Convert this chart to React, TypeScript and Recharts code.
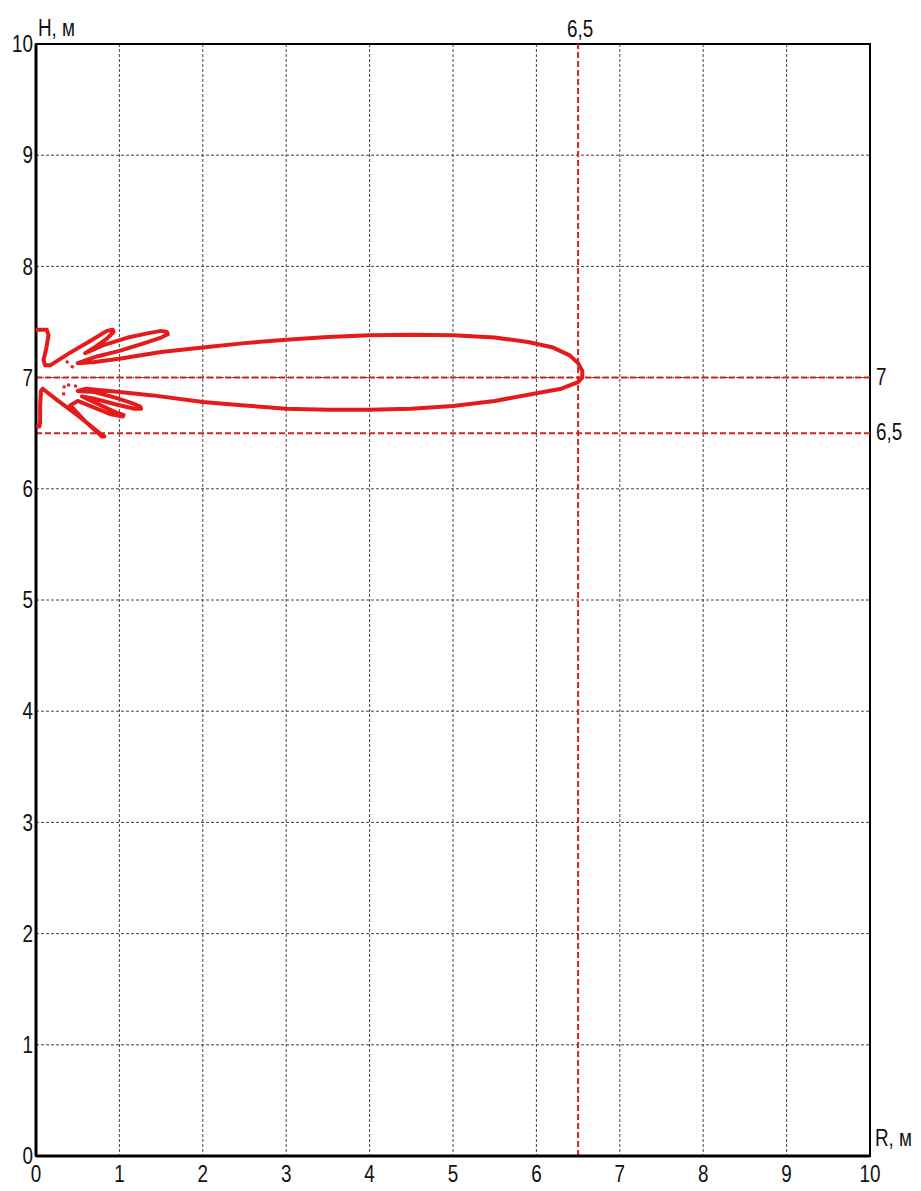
import React from 'react';
import {
  ScatterChart,
  Scatter,
  XAxis,
  YAxis,
  CartesianGrid,
  ReferenceLine,
  ReferenceArea,
} from 'recharts';

// Tick labels
const xTicks = [0, 1, 2, 3, 4, 5, 6, 7, 8, 9, 10];
const yTicks = [0, 1, 2, 3, 4, 5, 6, 7, 8, 9, 10];

// Pattern contour (R, м) — traced in drawing order
const patternR = [
  0.0, 0.13, 0.15, 0.12, 0.09, 0.11, 0.17,
  0.4, 0.65, 0.85, 0.92, 0.93, 0.85, 0.7, 0.59,
  0.8, 1.1, 1.35, 1.5, 1.57, 1.58, 1.5, 1.3, 1.0, 0.73, 0.5,
  0.7, 1.0, 1.5, 2.0, 2.5, 3.0, 3.5, 4.0, 4.5, 5.0, 5.5, 5.9, 6.2, 6.4, 6.5, 6.55, 6.55,
  6.5, 6.3, 6.0, 5.5, 5.0, 4.5, 4.0, 3.5, 3.0, 2.5, 2.0, 1.4, 1.0, 0.6, 0.5,
  0.7, 0.95, 1.15, 1.25, 1.26, 1.18, 0.95, 0.7, 0.55,
  0.75, 0.95, 1.05, 1.04, 0.9, 0.7, 0.5, 0.41,
  0.6, 0.79, 0.82, 0.78, 0.5, 0.25, 0.08,
  0.06, 0.05, 0.05, 0.04, 0.0,
];
// Pattern contour (H, м)
const patternH = [
  7.43, 7.43, 7.38, 7.25, 7.16, 7.11, 7.11,
  7.22, 7.33, 7.42, 7.43, 7.41, 7.35, 7.27, 7.22,
  7.29, 7.36, 7.40, 7.42, 7.41, 7.39, 7.36, 7.31, 7.24, 7.19, 7.13,
  7.14, 7.17, 7.23, 7.27, 7.31, 7.34, 7.365, 7.38, 7.385, 7.38, 7.36, 7.32, 7.27, 7.2, 7.13, 7.06, 7.0,
  6.96, 6.9, 6.86, 6.79, 6.745, 6.72, 6.71, 6.71, 6.72, 6.75, 6.78, 6.84, 6.87, 6.9, 6.88,
  6.87, 6.82, 6.77, 6.74, 6.72, 6.72, 6.76, 6.81, 6.83,
  6.76, 6.69, 6.665, 6.65, 6.67, 6.73, 6.79, 6.75,
  6.6, 6.47, 6.47, 6.49, 6.66, 6.8, 6.9,
  6.88, 6.75, 6.6, 6.56, 6.56,
];

// Small lobes near the source (dotted in the picture)
const coreUpperR = [0.36, 0.43, 0.48];
const coreUpperH = [7.15, 7.1, 7.08];
const coreLowerR = [0.33, 0.34, 0.42, 0.52];
const coreLowerH = [6.84, 6.94, 6.93, 6.92];

// Marked levels
const markR = 6.5;
const markH1 = 7;
const markH2 = 6.5;

const toPoints = (rs: number[], hs: number[]) =>
  rs.map((r, i) => ({ r, h: hs[i] }));

const pattern = toPoints(patternR, patternH);
const coreUpper = toPoints(coreUpperR, coreUpperH);
const coreLower = toPoints(coreLowerR, coreLowerH);

const FONT = '"Liberation Sans", Arial, sans-serif';
const FS = 23;
const SX = 0.82;
const RED = '#e51b1b';
const DASH_RED = '#cf2424';

const noShape = () => <g />;

const XTick = (props: any) => {
  const { x, y, payload } = props;
  return (
    <text
      transform={`translate(${x},${y}) scale(${SX},1)`}
      textAnchor="middle"
      dy="0.71em"
      fill="#111"
      fontSize={FS}
      fontFamily={FONT}
    >
      {payload.value}
    </text>
  );
};

const YTick = (props: any) => {
  const { x, y, payload } = props;
  return (
    <text
      transform={`translate(${x},${y}) scale(${SX},1)`}
      textAnchor="end"
      dy="0.355em"
      fill="#111"
      fontSize={FS}
      fontFamily={FONT}
    >
      {payload.value}
    </text>
  );
};

const rightLabel = (text: string) => (props: any) => {
  const vb = props.viewBox || {};
  const x = (vb.x || 0) + (vb.width || 0) + 6;
  const y = vb.y || 0;
  return (
    <text
      transform={`translate(${x},${y}) scale(${SX},1)`}
      dy="0.3em"
      fill="#111"
      fontSize={FS}
      fontFamily={FONT}
    >
      {text}
    </text>
  );
};

const topLabel = (text: string) => (props: any) => {
  const vb = props.viewBox || {};
  const x = (vb.x || 0) + 2;
  const y = (vb.y || 0) - 7;
  return (
    <text
      transform={`translate(${x},${y}) scale(${SX},1)`}
      textAnchor="middle"
      fill="#111"
      fontSize={FS}
      fontFamily={FONT}
    >
      {text}
    </text>
  );
};

const overlayText: React.CSSProperties = {
  position: 'absolute',
  fontSize: FS,
  lineHeight: 1,
  color: '#111',
  whiteSpace: 'nowrap',
  fontFamily: FONT,
  transform: `scaleX(${SX})`,
  transformOrigin: 'left top',
};

export default function App() {
  return (
    <div style={{ position: 'relative', width: 905, height: 1183, fontFamily: FONT }}>
      <ScatterChart
        width={905}
        height={1183}
        margin={{ top: 36, right: 43, bottom: 8, left: 0 }}
        style={{ overflow: 'visible' }}
      >
        <CartesianGrid stroke="#444" strokeDasharray="3 2" strokeWidth={1} />
        <XAxis
          type="number"
          dataKey="r"
          domain={[0, 10]}
          ticks={xTicks}
          allowDataOverflow
          height={27}
          tickLine={false}
          tickSize={0}
          tickMargin={10}
          axisLine={{ stroke: '#000', strokeWidth: 3 }}
          tick={<XTick />}
        />
        <YAxis
          type="number"
          dataKey="h"
          domain={[0, 10]}
          ticks={yTicks}
          allowDataOverflow
          width={28}
          tickLine={false}
          tickSize={0}
          tickMargin={3}
          axisLine={{ stroke: '#000', strokeWidth: 3 }}
          tick={<YTick />}
        />
        <ReferenceArea
          x1={0}
          x2={10}
          y1={0}
          y2={10}
          fill="none"
          stroke="#000"
          strokeWidth={2}
        />
        <ReferenceLine
          y={markH1}
          stroke={DASH_RED}
          strokeWidth={2}
          strokeDasharray="6 3"
          label={{ content: rightLabel('7') }}
        />
        <ReferenceLine
          y={markH2}
          stroke={DASH_RED}
          strokeWidth={2}
          strokeDasharray="6 3"
          label={{ content: rightLabel('6,5') }}
        />
        <ReferenceLine
          x={markR}
          stroke={DASH_RED}
          strokeWidth={2}
          strokeDasharray="6 3"
          label={{ content: topLabel('6,5') }}
        />
        <Scatter
          data={pattern}
          line={{ stroke: RED, strokeWidth: 4, strokeLinejoin: 'round', strokeLinecap: 'round' }}
          shape={noShape}
          isAnimationActive={false}
          legendType="none"
        />
        <Scatter
          data={coreUpper}
          line={{ stroke: RED, strokeWidth: 3, strokeDasharray: '3 4' }}
          shape={noShape}
          isAnimationActive={false}
          legendType="none"
        />
        <Scatter
          data={coreLower}
          line={{ stroke: RED, strokeWidth: 3, strokeDasharray: '3 4' }}
          shape={noShape}
          isAnimationActive={false}
          legendType="none"
        />
      </ScatterChart>
      <div style={{ ...overlayText, left: 30, top: 9 }}>H, м</div>
      <div style={{ ...overlayText, left: 867, top: 1119 }}>R, м</div>
    </div>
  );
}
